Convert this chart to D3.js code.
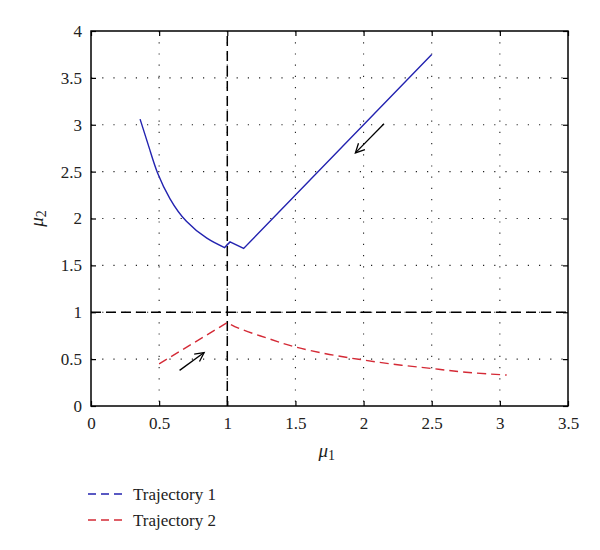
<!DOCTYPE html>
<html>
<head>
<meta charset="utf-8">
<script src="https://cdn.jsdelivr.net/npm/d3@7"></script>
<style>
body { margin: 0; background: white; }
</style>
</head>
<body>
<div id="container"></div>
<script>
const FONT = "'Liberation Serif', 'Times New Roman', Times, serif";

const xTicks = [0, 0.5, 1, 1.5, 2, 2.5, 3, 3.5];
const yTicks = [0, 0.5, 1, 1.5, 2, 2.5, 3, 3.5, 4];

// trajectory 1 (blue, solid): curved part, then notch + straight line
const traj1CurveX = [0.36, 0.43, 0.49, 0.58, 0.70, 0.85, 0.98];
const traj1CurveY = [3.06, 2.74, 2.48, 2.21, 1.97, 1.79, 1.69];
const traj1LineX = [0.98, 1.02, 1.12, 2.5];
const traj1LineY = [1.69, 1.75, 1.68, 3.75];

// trajectory 2 (red, dashed): straight rise, then decaying curve
const traj2LineX = [0.5, 1.0];
const traj2LineY = [0.45, 0.89];
const traj2CurveX = [1.0, 1.1, 1.3, 1.5, 1.75, 2.0, 2.25, 2.5, 2.75, 3.05];
const traj2CurveY = [0.89, 0.82, 0.72, 0.63, 0.55, 0.49, 0.44, 0.40, 0.36, 0.33];

// direction arrows [x0, y0, x1, y1]
const arrows = [
	[2.15, 3.01, 1.94, 2.70],
	[0.65, 0.38, 0.83, 0.57]
];

const legendNames = ['Trajectory 1', 'Trajectory 2'];
const colors = ['#2323b0', '#d42a36'];

const W = 600, H = 550;
const M = {left: 91, top: 31, right: 32, bottom: 144};
const w = W - M.left - M.right;
const h = H - M.top - M.bottom;

const svg = d3.select('#container').append('svg')
	.attr('width', W)
	.attr('height', H)
	.attr('font-family', FONT);

svg.append('defs').append('marker')
	.attr('id', 'head')
	.attr('viewBox', '-10 -6 12 12')
	.attr('refX', 0)
	.attr('refY', 0)
	.attr('markerWidth', 12)
	.attr('markerHeight', 12)
	.attr('markerUnits', 'userSpaceOnUse')
	.attr('orient', 'auto')
	.append('path')
	.attr('d', 'M-9,-4.5L0,0L-9,4.5')
	.attr('fill', 'none')
	.attr('stroke', 'black')
	.attr('stroke-width', 1.3);

const g = svg.append('g').attr('transform', `translate(${M.left},${M.top})`);

const x = d3.scaleLinear().domain([0, 3.5]).range([0, w]);
const y = d3.scaleLinear().domain([0, 4]).range([h, 0]);

// dotted grid
g.append('g').selectAll('line').data(xTicks.slice(1, -1)).join('line')
	.attr('x1', d => x(d)).attr('x2', d => x(d))
	.attr('y1', 0).attr('y2', h)
	.attr('stroke', '#222').attr('stroke-width', 1.1)
	.attr('stroke-dasharray', '1.2,10');
g.append('g').selectAll('line').data(yTicks.slice(1, -1)).join('line')
	.attr('y1', d => y(d)).attr('y2', d => y(d))
	.attr('x1', 0).attr('x2', w)
	.attr('stroke', '#222').attr('stroke-width', 1.1)
	.attr('stroke-dasharray', '1.2,10');

// axes, ticks pointing inward
const fmt = d => String(d);
const styleAxis = sel => {
	sel.attr('font-family', FONT);
	sel.select('.domain').remove();
	sel.selectAll('line').attr('stroke', 'black').attr('stroke-width', 1.2);
	sel.selectAll('text').attr('font-size', 17).attr('fill', '#222');
};
g.append('g').attr('transform', `translate(0,${h})`)
	.call(d3.axisBottom(x).tickValues(xTicks).tickFormat(fmt).tickSize(-5).tickPadding(11))
	.call(styleAxis);
g.append('g')
	.call(d3.axisLeft(y).tickValues(yTicks).tickFormat(fmt).tickSize(-5).tickPadding(9))
	.call(styleAxis);
g.append('g')
	.call(d3.axisTop(x).tickValues(xTicks).tickSize(-5).tickFormat(''))
	.call(styleAxis);
g.append('g').attr('transform', `translate(${w},0)`)
	.call(d3.axisRight(y).tickValues(yTicks).tickSize(-5).tickFormat(''))
	.call(styleAxis);

g.append('rect')
	.attr('width', w).attr('height', h)
	.attr('fill', 'none').attr('stroke', 'black').attr('stroke-width', 1.5);

// reference dashed lines at mu = 1
g.append('line')
	.attr('x1', x(1)).attr('x2', x(1)).attr('y1', y(0)).attr('y2', y(4))
	.attr('stroke', 'black').attr('stroke-width', 1.5).attr('stroke-dasharray', '10,5');
g.append('line')
	.attr('x1', x(0)).attr('x2', x(3.5)).attr('y1', y(1)).attr('y2', y(1))
	.attr('stroke', 'black').attr('stroke-width', 1.5).attr('stroke-dasharray', '10,5');

const straight = d3.line().x(d => x(d[0])).y(d => y(d[1]));
const smooth = d3.line().x(d => x(d[0])).y(d => y(d[1])).curve(d3.curveNatural);

// trajectory 1
g.append('path')
	.attr('d', smooth(d3.zip(traj1CurveX, traj1CurveY)) + straight(d3.zip(traj1LineX, traj1LineY)).replace(/^M/, 'L'))
	.attr('fill', 'none')
	.attr('stroke', colors[0])
	.attr('stroke-width', 1.4);

// trajectory 2
g.append('path')
	.attr('d', straight(d3.zip(traj2LineX, traj2LineY)) + smooth(d3.zip(traj2CurveX, traj2CurveY)).replace(/^M/, 'L'))
	.attr('fill', 'none')
	.attr('stroke', colors[1])
	.attr('stroke-width', 1.4)
	.attr('stroke-dasharray', '9,5');

g.append('g').selectAll('line').data(arrows).join('line')
	.attr('x1', d => x(d[0])).attr('y1', d => y(d[1]))
	.attr('x2', d => x(d[2])).attr('y2', d => y(d[3]))
	.attr('stroke', 'black').attr('stroke-width', 1.3)
	.attr('marker-end', 'url(#head)');

// axis titles
const xl = svg.append('text')
	.attr('x', M.left + x(1.73))
	.attr('y', 457)
	.attr('text-anchor', 'middle')
	.attr('font-size', 19)
	.attr('fill', '#222');
xl.append('tspan').attr('font-style', 'italic').text('μ');
xl.append('tspan').attr('font-size', 14).attr('dy', 3).text('1');

const yl = svg.append('text')
	.attr('transform', `translate(43,${M.top + y(2)}) rotate(-90)`)
	.attr('text-anchor', 'middle')
	.attr('font-size', 19)
	.attr('fill', '#222');
yl.append('tspan').attr('font-style', 'italic').text('μ');
yl.append('tspan').attr('font-size', 14).attr('dy', 3).text('2');

// legend
const leg = svg.append('g').selectAll('g').data(legendNames).join('g')
	.attr('transform', (d, i) => `translate(88,${494 + i * 26})`);
leg.append('line')
	.attr('x1', 0).attr('x2', 34)
	.attr('stroke', (d, i) => colors[i])
	.attr('stroke-width', 1.4)
	.attr('stroke-dasharray', '8,5');
leg.append('text')
	.attr('x', 45).attr('y', 6)
	.attr('font-size', 17)
	.attr('fill', '#222')
	.text(d => d);
</script>
</body>
</html>
